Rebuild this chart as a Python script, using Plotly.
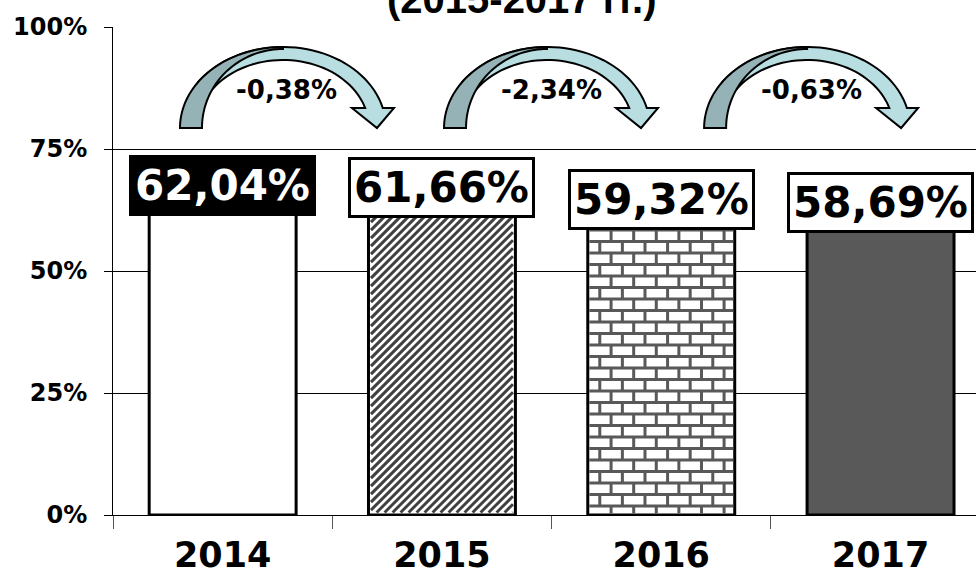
import math
import plotly.graph_objects as go

# ---- data -------------------------------------------------------------
years = ["2014", "2015", "2016", "2017"]
shares = [62.04, 61.66, 59.32, 58.69]
bar_fills = ["#FFFFFF", "#FFFFFF", "#FFFFFF", "#595959"]
bar_textures = ["", "hatch", "brick", ""]
label_bg = ["#000000", "#FFFFFF", "#FFFFFF", "#FFFFFF"]
label_fg = ["#FFFFFF", "#000000", "#000000", "#000000"]
y_tickvals = [0, 25, 50, 75, 100]
y_ticktext = ["0%", "25%", "50%", "75%", "100%"]
title_text = "(2015-2017 гг.)"
# year-over-year change, shown over the curved arrows
changes = [round(b - a, 2) for a, b in zip(shares[:-1], shares[1:])]
# left foot of each curved arrow, in category units
arrow_feet = [-0.19, 1.014, 2.20]

# ---- layout constants -------------------------------------------------
W, H = 976, 571
M_L, M_R, M_T, M_B = 113, 0, 27, 56
X_MIN = -0.5
PX_PER_CAT = 219.3
X_MAX = X_MIN + (W - M_L - M_R) / PX_PER_CAT
Y_MIN, Y_MAX = 0, 100
PLOT_H = H - M_T - M_B
PX_PER_PCT = PLOT_H / (Y_MAX - Y_MIN)
BAR_W = 0.67
FONT = "DejaVu Sans"


def dx(px):
    return px / PX_PER_CAT


def dy(px):
    return px / PX_PER_PCT


def pct(v):
    return f"{v:.2f}".replace(".", ",") + "%"


fig = go.Figure()

# ---- bars ---------------------------------------------------------------
fig.add_trace(go.Bar(
    x=list(range(len(years))),
    y=shares,
    width=BAR_W,
    marker=dict(color=bar_fills, line=dict(color="#000000", width=3)),
    hoverinfo="skip",
    showlegend=False,
))

# ---- textures drawn inside the bars (in pixel units, then scaled) -------
ROW_PX, BRICK_PX = 11.5, 22.6
HATCH_PX = 8.0
bx, by = [], []      # brick mortar
hx, hy = [], []      # diagonal hatch
for i, (v, tex) in enumerate(zip(shares, bar_textures)):
    left = i - BAR_W / 2
    width_px = BAR_W * PX_PER_CAT
    top_px = v * PX_PER_PCT
    if tex == "brick":
        x_lo, x_hi = 1.5, width_px - 1.5
        row_lo = 1.5
        k = 0
        while row_lo < top_px:
            row_hi = min(9 + k * ROW_PX, top_px)
            if row_hi < top_px:
                hx_ = [left + dx(x_lo), left + dx(x_hi), None]
                bx += hx_
                by += [dy(row_hi), dy(row_hi), None]
            off = 23.3 if k % 2 == 0 else 12.0
            while off < x_hi:
                bx += [left + dx(off), left + dx(off), None]
                by += [dy(row_lo), dy(row_hi), None]
                off += BRICK_PX
            row_lo = row_hi
            k += 1
    elif tex == "hatch":
        # 45-degree stripes y = x - c, clipped to the inner rectangle
        x_lo, x_hi = 2.5, width_px - 2.5
        y_lo, y_hi = 2.5, top_px
        c = -(y_hi - x_lo)
        while c < x_hi - y_lo:
            xa = max(x_lo, y_lo + c)
            xb = min(x_hi, y_hi + c)
            if xb > xa:
                hx += [left + dx(xa), left + dx(xb), None]
                hy += [dy(xa - c), dy(xb - c), None]
            c += HATCH_PX

fig.add_trace(go.Scatter(
    x=hx, y=hy, mode="lines",
    line=dict(color="#404040", width=2.9),
    hoverinfo="skip", showlegend=False,
))
fig.add_trace(go.Scatter(
    x=bx, y=by, mode="lines",
    line=dict(color="#595959", width=3),
    hoverinfo="skip", showlegend=False,
))

# ---- value labels in boxes ----------------------------------------------
for i, v in enumerate(shares):
    fig.add_annotation(
        x=i, y=v, xref="x", yref="y",
        text=pct(v), showarrow=False,
        yanchor="bottom", yshift=-4,
        font=dict(family=FONT, size=42, color=label_fg[i], weight="bold"),
        bgcolor=label_bg[i], bordercolor="#000000",
        borderwidth=3, borderpad=3,
    )

# ---- curved arrows with change labels ---------------------------------
BASE = Y_MAX - dy(128 - M_T)          # foot level of the arrows
CX, RX_O, RY_O = 102, 103, 81         # outer ellipse (px)
RX_LI, RY_LI = 86, 68                 # inner edge of the light band
RX_DI, RY_DI = 81, 79                 # inner edge of the dark leg
HEAD_Y = 20                           # arrow head starts this far above the feet


def ell(x0, rx, ry, t):
    return (x0 + dx(CX + rx * math.cos(t)), BASE + dy(ry * math.sin(t)))


def path(pts):
    return "M " + " L ".join(f"{x:.5f},{y:.5f}" for x, y in pts) + " Z"


for xf, ch in zip(arrow_feet, changes):
    n = 40
    t_end = math.radians(145)
    t_out = math.asin(HEAD_Y / RY_O)
    t_in = math.asin(HEAD_Y / RY_LI)
    light = [ell(xf, RX_O, RY_O, t_out + (t_end - t_out) * j / n) for j in range(n + 1)][::-1]
    light += [
        (xf + dx(213), BASE + dy(HEAD_Y)),
        (xf + dx(196), BASE),
        (xf + dx(171), BASE + dy(HEAD_Y)),
    ]
    light += [ell(xf, RX_LI, RY_LI, t_in + (t_end - t_in) * j / n) for j in range(n + 1)]
    fig.add_shape(type="path", path=path(light), xref="x", yref="y",
                  fillcolor="#B8DEE2", line=dict(color="#000000", width=2), layer="above")

    dark = [ell(xf, RX_O, RY_O, math.pi - (math.pi / 2) * j / n) for j in range(n + 1)]
    dark += [ell(xf, RX_DI, RY_DI, math.pi / 2 + (math.pi / 2) * j / n) for j in range(n + 1)]
    fig.add_shape(type="path", path=path(dark), xref="x", yref="y",
                  fillcolor="#95B3B6", line=dict(color="#000000", width=2), layer="above")

    fig.add_annotation(
        x=xf + dx(106), y=BASE + dy(38), xref="x", yref="y",
        text=pct(ch), showarrow=False,
        font=dict(family=FONT, size=26, color="#000000", weight="bold"),
    )

# ---- title (its upper part runs off the top edge) -----------------------
fig.add_annotation(
    x=(521 - M_L) / (W - M_L - M_R),
    y=(H - M_B - 23) / PLOT_H,
    xref="paper", yref="paper", yanchor="bottom",
    text=title_text, showarrow=False,
    font=dict(family="Liberation Sans", size=40, color="#000000", weight="bold"),
)

fig.update_layout(
    width=W, height=H,
    margin=dict(l=M_L, r=M_R, t=M_T, b=M_B, pad=0),
    paper_bgcolor="#FFFFFF", plot_bgcolor="#FFFFFF",
    template="none",
    showlegend=False,
    xaxis=dict(
        range=[X_MIN, X_MAX], autorange=False, fixedrange=True,
        tickmode="array", tickvals=list(range(len(years))), ticktext=years,
        ticks="outside", ticklen=9, tickcolor="rgba(0,0,0,0)",
        tickfont=dict(family=FONT, size=35, color="#000000", weight="bold"),
        ticklabelstandoff=0,
        minor=dict(tickmode="array", tickvals=[k - 0.5 for k in range(len(years) + 1)],
                   ticks="outside", ticklen=13, tickcolor="#555555", tickwidth=1,
                   showgrid=False),
        showline=True, linecolor="#000000", linewidth=1,
        showgrid=False, zeroline=False, automargin=False,
    ),
    yaxis=dict(
        range=[Y_MIN, Y_MAX], autorange=False, fixedrange=True,
        tickmode="array", tickvals=y_tickvals, ticktext=y_ticktext,
        ticks="outside", ticklen=8, tickcolor="#000000", tickwidth=1,
        tickfont=dict(family=FONT, size=24, color="#000000", weight="bold"),
        ticklabelstandoff=12,
        showline=True, linecolor="#000000", linewidth=1,
        showgrid=True, gridcolor="#000000", gridwidth=1,
        zeroline=False, automargin=False,
    ),
)

fig.write_html("out.html", config={"displayModeBar": False})
